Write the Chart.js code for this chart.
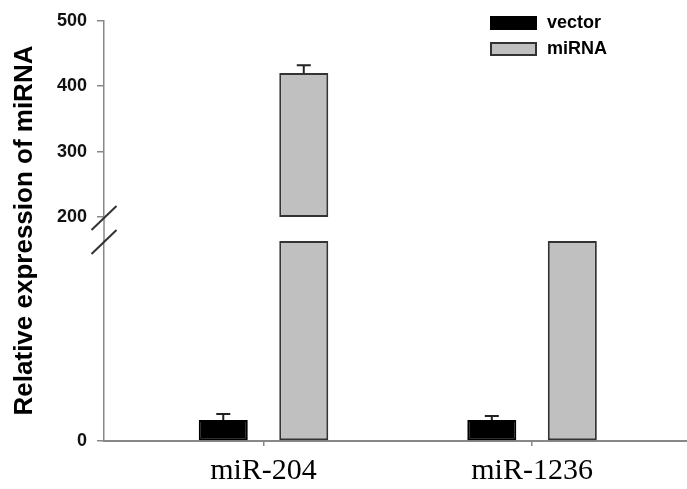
<!DOCTYPE html>
<html><head><meta charset="utf-8">
<script src="https://cdn.jsdelivr.net/npm/chart.js@4.4.0/dist/chart.umd.min.js"></script>
<style>
html,body{margin:0;padding:0;background:#fff;}
#wrap{position:relative;width:687px;height:489px;overflow:hidden;background:#fff;}
#wrap canvas{position:absolute;left:0;top:0;}
</style></head><body>
<div id="wrap"><canvas id="low" width="687" height="489"></canvas><canvas id="high" width="687" height="489"></canvas></div>
<script>
// ---- data ----
const categories = ['miR-204', 'miR-1236'];
const seriesNames = ['vector', 'miRNA'];
const vectorValues = [1.05, 1.05];
const vectorErrors = [0.3, 0.2];
const mirnaValues = [420, 150];
const mirnaErrors = [12, 10];
const lowerTicks = [0];
const upperTicks = [200, 300, 400, 500];
const lowerRange = [0, 10];
const upperRange = [200, 500];
const yTitle = 'Relative expression of miRNA';

// ---- layout / style ----
const W = 687, H = 489;
const AXIS_LEFT = 104;
const LOWER_TOP = 241, LOWER_BOTTOM = 441;
const UPPER_TOP = 18, UPPER_BOTTOM = 217;
const X_MIN = 0.406, X_MAX = 2.577;
const AXIS_COLOR = '#888';
const SANS = '"Liberation Sans", Arial, sans-serif';
const SERIF = '"Liberation Serif", "Times New Roman", serif';
Chart.defaults.font.family = SANS;
Chart.defaults.color = '#000';

const seriesStyle = [
  {bg: '#000000', border: '#000000'},
  {bg: '#c0c0c0', border: '#333333'}
];
const allValues = [vectorValues, mirnaValues];
const allErrors = [vectorErrors, mirnaErrors];

function sectionData(values, range, isUpper) {
  return values.map((v, i) => {
    if (isUpper) {
      return {x: i + 1, y: v > range[0] ? [range[0], Math.min(v, range[1])] : null};
    }
    return {x: i + 1, y: [range[0], Math.min(v, range[1])]};
  });
}

const errorBarPlugin = {
  id: 'errorBars',
  afterDatasetsDraw(chart) {
    const ctx = chart.ctx;
    const ys = chart.scales.y;
    ctx.save();
    ctx.strokeStyle = '#222';
    ctx.lineWidth = 2;
    chart.data.datasets.forEach((ds, di) => {
      const meta = chart.getDatasetMeta(di);
      const vals = allValues[di], errs = allErrors[di];
      meta.data.forEach((el, i) => {
        const v = vals[i], e = errs[i];
        if (e == null || v < ys.min || v > ys.max) return;
        const y0 = ys.getPixelForValue(v);
        const y1 = ys.getPixelForValue(v + e);
        ctx.beginPath();
        ctx.moveTo(el.x, y0); ctx.lineTo(el.x, y1);
        ctx.moveTo(el.x - 7, y1); ctx.lineTo(el.x + 7, y1);
        ctx.stroke();
      });
    });
    ctx.restore();
  }
};

function slash(ctx, x, y) {
  ctx.save();
  ctx.strokeStyle = '#333';
  ctx.lineWidth = 2;
  ctx.beginPath();
  ctx.moveTo(x - 12.5, y + 12);
  ctx.lineTo(x + 12.5, y - 12);
  ctx.stroke();
  ctx.restore();
}

const lowerDecor = {
  id: 'lowerDecor',
  afterDraw(chart) {
    const ctx = chart.ctx;
    const a = chart.chartArea;
    ctx.save();
    ctx.strokeStyle = AXIS_COLOR;
    ctx.lineWidth = 1.5;
    ctx.beginPath();
    ctx.moveTo(a.left, a.top - (LOWER_TOP - UPPER_BOTTOM));
    ctx.lineTo(a.left, a.top);
    ctx.stroke();
    ctx.restore();
    slash(ctx, a.left, a.top + 1);
    ctx.save();
    ctx.translate(25, (UPPER_TOP + LOWER_BOTTOM) / 2 + 1);
    ctx.rotate(-Math.PI / 2);
    ctx.font = 'bold 26px ' + SANS;
    ctx.fillStyle = '#000';
    ctx.textAlign = 'center';
    ctx.textBaseline = 'middle';
    ctx.fillText(yTitle, 0, 0);
    ctx.restore();
  }
};

const upperDecor = {
  id: 'upperDecor',
  afterDraw(chart) {
    const ctx = chart.ctx;
    const a = chart.chartArea;
    slash(ctx, a.left, a.bottom + 1);
    ctx.save();
    chart.data.datasets.forEach((ds, i) => {
      const y = 16 + i * 26;
      ctx.fillStyle = ds.backgroundColor;
      ctx.fillRect(490, y, 47, 14);
      ctx.strokeStyle = ds.borderColor;
      ctx.lineWidth = 2;
      ctx.strokeRect(491, y + 1, 45, 12);
      ctx.fillStyle = '#000';
      ctx.font = 'bold 18px ' + SANS;
      ctx.textBaseline = 'middle';
      ctx.textAlign = 'left';
      ctx.fillText(ds.label, 547, y + 7);
    });
    ctx.restore();
  }
};

function makeChart(id, isUpper) {
  const range = isUpper ? upperRange : lowerRange;
  const ticks = isUpper ? upperTicks : lowerTicks;
  return new Chart(document.getElementById(id), {
    type: 'bar',
    data: {
      datasets: seriesNames.map((name, si) => ({
        label: name,
        data: sectionData(allValues[si], range, isUpper),
        backgroundColor: seriesStyle[si].bg,
        borderColor: seriesStyle[si].border,
        borderWidth: 2,
        borderSkipped: false,
        categoryPercentage: 0.5996,
        barPercentage: 0.609
      }))
    },
    options: {
      responsive: false,
      animation: false,
      devicePixelRatio: 1,
      layout: {padding: {left: 0, right: 0, top: isUpper ? UPPER_TOP : LOWER_TOP, bottom: isUpper ? H - UPPER_BOTTOM : 0}},
      plugins: {legend: {display: false}, tooltip: {enabled: false}},
      scales: {
        x: {
          type: 'linear',
          display: !isUpper,
          offset: false,
          min: X_MIN, max: X_MAX,
          afterBuildTicks(s) { s.ticks = categories.map((c, i) => ({value: i + 1})); },
          afterFit(s) { s.height = isUpper ? 0 : H - LOWER_BOTTOM; },
          border: {display: true, color: AXIS_COLOR, width: 2},
          grid: {display: true, offset: false, drawOnChartArea: false, tickLength: 5, color: AXIS_COLOR, lineWidth: 1.5},
          ticks: {
            padding: 7,
            font: {family: SERIF, size: 30},
            color: '#000',
            callback: (v) => categories[Math.round(v) - 1]
          }
        },
        y: {
          type: 'linear',
          min: range[0], max: range[1],
          stacked: false,
          afterBuildTicks(s) { s.ticks = ticks.map(v => ({value: v})); },
          afterFit(s) { s.width = AXIS_LEFT; },
          border: {display: true, color: AXIS_COLOR, width: 1.5},
          grid: {display: true, drawOnChartArea: false, tickLength: 7, color: AXIS_COLOR, lineWidth: 1.5},
          ticks: {padding: 10, font: {size: 18, weight: 'bold'}, color: '#111'}
        }
      }
    },
    plugins: [errorBarPlugin, isUpper ? upperDecor : lowerDecor]
  });
}

makeChart('low', false);
makeChart('high', true);
</script>
</body></html>
